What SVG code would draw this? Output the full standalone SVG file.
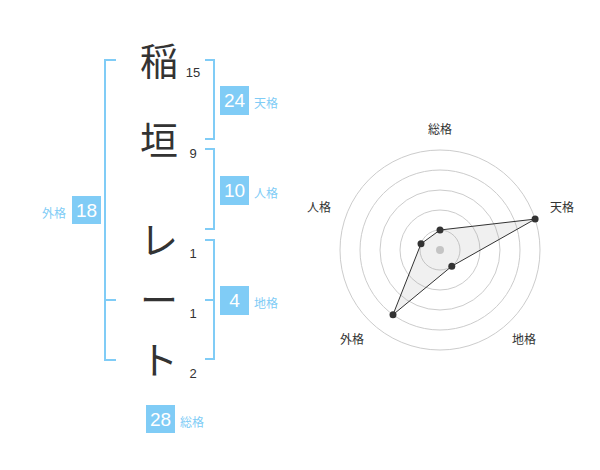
<svg xmlns="http://www.w3.org/2000/svg" width="600" height="470" viewBox="0 0 600 470">
<style>
.ch{font-family:"Noto Sans CJK JP","Noto Sans",sans-serif;font-size:38px;fill:#333;text-anchor:middle}
.num{font-family:"Liberation Sans",Arial,sans-serif;font-size:13px;fill:#333;text-anchor:middle}
.br{fill:none;stroke:#80ccf6;stroke-width:2}
.box{fill:#80ccf6}
.bt{font-family:"Liberation Sans",Arial,sans-serif;font-size:19px;fill:#fff;text-anchor:middle}
.lb{font-family:"Noto Sans CJK JP",sans-serif;font-size:12px;fill:#80ccf6}
.ring{fill:none;stroke:#ccc;stroke-width:1}
.rl{font-family:"Noto Sans CJK JP",sans-serif;font-size:12px;fill:#333;text-anchor:middle}
.dot{fill:#333}
</style>
<rect width="600" height="470" fill="#fff"/>
<g id="name">
<text class="ch" x="159" y="75">稲</text>
<text class="ch" x="159" y="154">垣</text>
<text class="ch" x="159" y="254">レ</text>
<text class="ch" x="159" y="314">ー</text>
<text class="ch" x="159" y="374">ト</text>
<text class="num" x="193" y="77">15</text>
<text class="num" x="193" y="158">9</text>
<text class="num" x="193" y="258">1</text>
<text class="num" x="193" y="318">1</text>
<text class="num" x="193" y="378">2</text>
</g>
<g id="connectors">
<path class="br" d="M116 60H105V360H116M105 300H116"/>
<path class="br" d="M205 60H214V139H205"/>
<path class="br" d="M205 149H214V229H205"/>
<path class="br" d="M205 240H214V359H205M205 300H214"/>
</g>
<g id="tenkaku">
<rect class="box" x="220" y="86" width="29" height="29"/>
<text class="bt" x="234.5" y="107">24</text>
<text class="lb" x="254" y="108">天格</text>
</g>
<g id="jinkaku">
<rect class="box" x="220" y="176" width="29" height="29"/>
<text class="bt" x="234.5" y="197">10</text>
<text class="lb" x="254" y="198">人格</text>
</g>
<g id="chikaku">
<rect class="box" x="220" y="286" width="29" height="29"/>
<text class="bt" x="234.5" y="307">4</text>
<text class="lb" x="254" y="308">地格</text>
</g>
<g id="gaikaku">
<rect class="box" x="72" y="196" width="29" height="28"/>
<text class="bt" x="86.5" y="217">18</text>
<text class="lb" x="66" y="218" text-anchor="end">外格</text>
</g>
<g id="soukaku">
<rect class="box" x="146" y="405" width="29" height="28"/>
<text class="bt" x="160.5" y="426">28</text>
<text class="lb" x="180" y="427">総格</text>
</g>
<g id="radar">
<circle class="ring" cx="440" cy="250" r="20"/>
<circle class="ring" cx="440" cy="250" r="40"/>
<circle class="ring" cx="440" cy="250" r="60"/>
<circle class="ring" cx="440" cy="250" r="80"/>
<circle class="ring" cx="440" cy="250" r="100"/>
<circle cx="440" cy="250" r="4" fill="#ccc"/>
<polygon points="440,230 535.1,219.1 451.8,266.2 393,314.7 421,243.8" fill="#999" fill-opacity="0.15" stroke="#333" stroke-width="1"/>
<circle class="dot" cx="440" cy="230" r="3.5"/>
<circle class="dot" cx="535.1" cy="219.1" r="3.5"/>
<circle class="dot" cx="451.8" cy="266.2" r="3.5"/>
<circle class="dot" cx="393" cy="314.7" r="3.5"/>
<circle class="dot" cx="421" cy="243.8" r="3.5"/>
<text class="rl" x="440" y="134">総格</text>
<text class="rl" x="562" y="212">天格</text>
<text class="rl" x="524" y="344">地格</text>
<text class="rl" x="352" y="344">外格</text>
<text class="rl" x="319" y="212">人格</text>
</g>
</svg>
